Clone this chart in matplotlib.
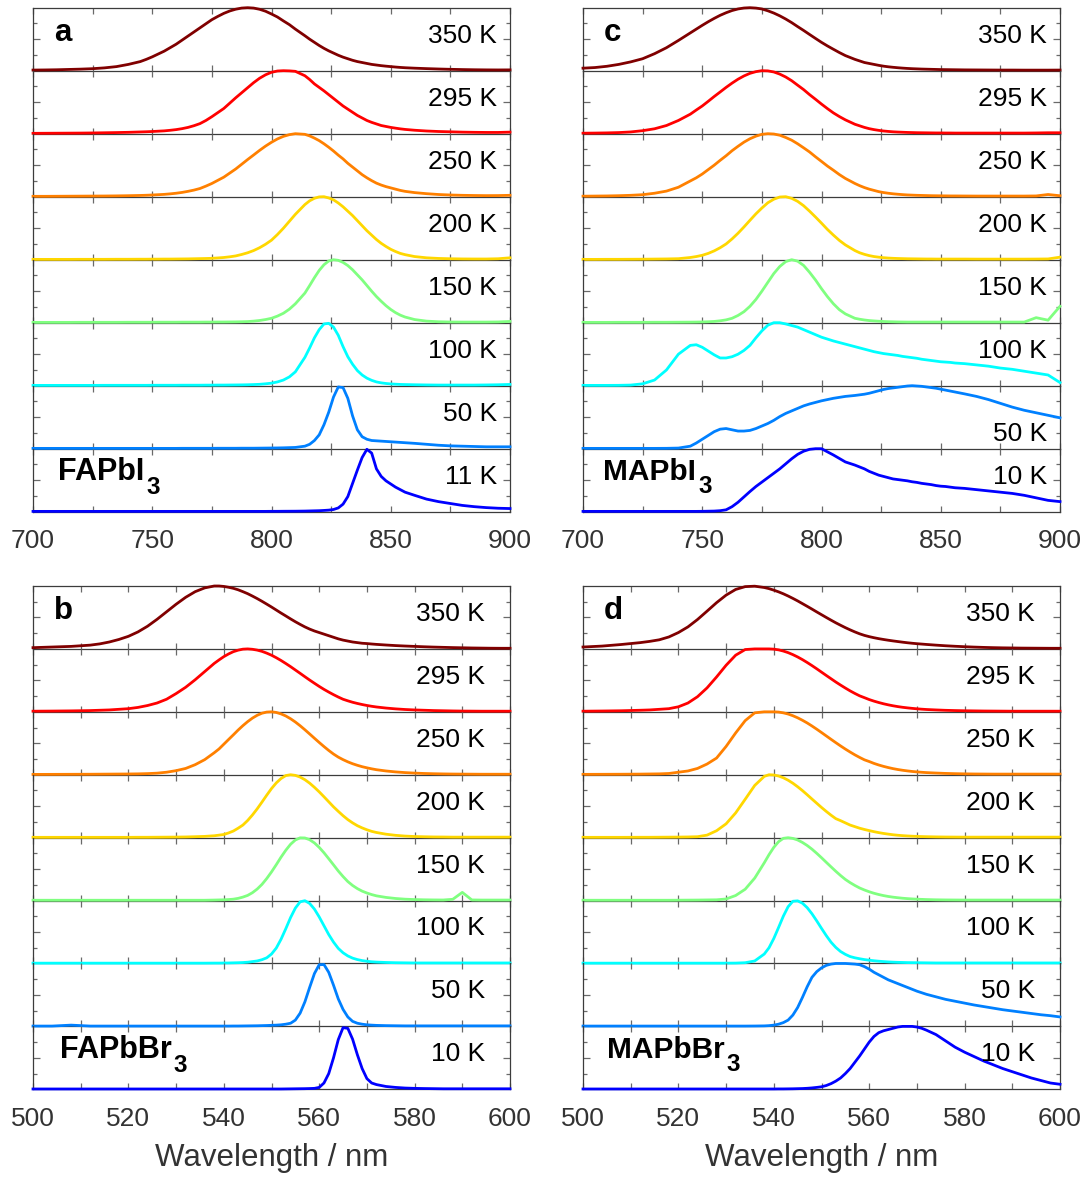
import numpy as np
import matplotlib
matplotlib.use("Agg")
import matplotlib.pyplot as plt
from matplotlib.ticker import MultipleLocator, FixedLocator

plt.rcParams['font.family'] = ['Liberation Sans', 'DejaVu Sans']

# ---------------------------------------------------------------------------
# Wavelength sampling (nm)
# ---------------------------------------------------------------------------
wl_iodide = np.r_[700:746:5, 747.5:811:2.5, 814:857:2, 860:901:5]
wl_bromide = np.r_[500:513:4, 514:537:2, 538:573:1, 574:601:2]

labels_fapbi3 = ['350 K', '295 K', '250 K', '200 K', '150 K', '100 K', '50 K', '11 K']
labels_other = ['350 K', '295 K', '250 K', '200 K', '150 K', '100 K', '50 K', '10 K']
line_colors = ['#800000', '#ff0000', '#ff8000', '#ffd700', '#80ff80', '#00ffff', '#0080ff', '#0000ff']

# ---------------------------------------------------------------------------
# FAPbI3 normalised PL (panel a)
# ---------------------------------------------------------------------------
fapbi3_350 = [0.010, 0.012, 0.015, 0.020, 0.025, 0.032, 0.045, 0.065, 0.100, 0.145,
              0.180, 0.220, 0.265, 0.310, 0.365, 0.420, 0.485, 0.550, 0.615, 0.680, 0.745, 0.810, 0.862,
              0.910, 0.948, 0.976, 0.994, 1.000, 0.994, 0.975, 0.944, 0.900, 0.852, 0.790, 0.731, 0.660,
              0.555, 0.500, 0.450, 0.400, 0.355, 0.315, 0.280, 0.245, 0.215, 0.190, 0.165, 0.145, 0.130, 0.115, 0.100, 0.090, 0.080, 0.072, 0.065, 0.058, 0.052, 0.047,
              0.040, 0.033, 0.027, 0.022, 0.018, 0.015, 0.013, 0.012, 0.013]
fapbi3_295 = [0.006, 0.007, 0.008, 0.009, 0.010, 0.012, 0.015, 0.018, 0.022, 0.028,
              0.031, 0.035, 0.040, 0.045, 0.054, 0.065, 0.080, 0.100, 0.127, 0.160, 0.210, 0.270, 0.335,
              0.400, 0.485, 0.570, 0.650, 0.730, 0.810, 0.880, 0.935, 0.975, 0.995, 1.000, 0.997, 0.990,
              0.920, 0.860, 0.790, 0.735, 0.680, 0.620, 0.560, 0.500, 0.440, 0.390, 0.340, 0.290, 0.250, 0.210, 0.180, 0.155, 0.130, 0.115, 0.100, 0.088, 0.077, 0.068,
              0.055, 0.043, 0.035, 0.030, 0.025, 0.022, 0.020, 0.020, 0.025]
fapbi3_250 = [0.006, 0.006, 0.007, 0.008, 0.009, 0.010, 0.011, 0.013, 0.016, 0.020,
              0.023, 0.027, 0.032, 0.037, 0.045, 0.055, 0.068, 0.085, 0.105, 0.130, 0.168, 0.210, 0.260,
              0.310, 0.375, 0.440, 0.515, 0.590, 0.662, 0.735, 0.803, 0.864, 0.917, 0.958, 0.985, 1.000,
              0.990, 0.965, 0.930, 0.890, 0.840, 0.785, 0.725, 0.660, 0.600, 0.530, 0.470, 0.410, 0.350, 0.300, 0.255, 0.215, 0.185, 0.160, 0.140, 0.120, 0.100, 0.085,
              0.065, 0.048, 0.035, 0.027, 0.022, 0.019, 0.017, 0.018, 0.022]
fapbi3_200 = [0.005, 0.005, 0.005, 0.005, 0.006, 0.006, 0.006, 0.007, 0.007, 0.008,
              0.008, 0.009, 0.009, 0.010, 0.010, 0.011, 0.012, 0.013, 0.015, 0.017, 0.019, 0.022, 0.028,
              0.035, 0.046, 0.060, 0.083, 0.110, 0.145, 0.190, 0.245, 0.310, 0.400, 0.500, 0.610, 0.720,
              0.875, 0.935, 0.975, 0.997, 1.000, 0.980, 0.950, 0.900, 0.840, 0.770, 0.700, 0.620, 0.540, 0.460, 0.390, 0.320, 0.260, 0.210, 0.165, 0.130, 0.100, 0.080,
              0.050, 0.030, 0.020, 0.015, 0.012, 0.011, 0.011, 0.015, 0.030]
fapbi3_150 = [0.005, 0.005, 0.005, 0.005, 0.006, 0.006, 0.006, 0.006, 0.007, 0.007,
              0.007, 0.007, 0.008, 0.008, 0.008, 0.008, 0.009, 0.009, 0.009, 0.009, 0.010, 0.010, 0.011,
              0.011, 0.012, 0.013, 0.015, 0.018, 0.025, 0.035, 0.050, 0.070, 0.105, 0.150, 0.215, 0.300,
              0.470, 0.590, 0.715, 0.830, 0.920, 0.980, 1.000, 0.990, 0.957, 0.907, 0.840, 0.760, 0.680, 0.590, 0.500, 0.415, 0.340, 0.270, 0.210, 0.160, 0.120, 0.090,
              0.050, 0.025, 0.015, 0.011, 0.010, 0.010, 0.010, 0.012, 0.020]
fapbi3_100 = [0.005, 0.005, 0.005, 0.005, 0.005, 0.005, 0.006, 0.006, 0.006, 0.006,
              0.006, 0.007, 0.007, 0.007, 0.007, 0.007, 0.008, 0.008, 0.008, 0.008, 0.009, 0.009, 0.010,
              0.010, 0.011, 0.012, 0.013, 0.015, 0.018, 0.022, 0.030, 0.040, 0.060, 0.090, 0.140, 0.220,
              0.450, 0.600, 0.760, 0.890, 0.980, 0.990, 0.930, 0.800, 0.620, 0.460, 0.340, 0.240, 0.170, 0.120, 0.085, 0.060, 0.045, 0.035, 0.028, 0.024, 0.020, 0.018,
              0.015, 0.012, 0.010, 0.010, 0.010, 0.010, 0.012, 0.015, 0.020]
fapbi3_50 = [0.005, 0.005, 0.005, 0.005, 0.005, 0.005, 0.005, 0.005, 0.005, 0.005,
             0.005, 0.005, 0.005, 0.005, 0.005, 0.005, 0.006, 0.006, 0.006, 0.006, 0.006, 0.006, 0.007,
             0.007, 0.007, 0.007, 0.008, 0.008, 0.008, 0.009, 0.010, 0.011, 0.012, 0.014, 0.017, 0.020,
             0.040, 0.070, 0.130, 0.220, 0.380, 0.580, 0.820, 0.980, 0.970, 0.800, 0.520, 0.300, 0.190, 0.150, 0.130, 0.125, 0.120, 0.115, 0.110, 0.105, 0.100, 0.095,
             0.085, 0.070, 0.055, 0.045, 0.040, 0.035, 0.030, 0.030, 0.030]
fapbi3_11 = [0.005, 0.005, 0.005, 0.005, 0.005, 0.005, 0.005, 0.005, 0.005, 0.005,
             0.005, 0.005, 0.005, 0.005, 0.005, 0.005, 0.005, 0.005, 0.005, 0.005, 0.005, 0.005, 0.005,
             0.005, 0.005, 0.005, 0.005, 0.005, 0.005, 0.005, 0.005, 0.006, 0.006, 0.007, 0.0075, 0.008,
             0.010, 0.012, 0.014, 0.016, 0.020, 0.025, 0.035, 0.060, 0.120, 0.240, 0.450, 0.660, 0.860, 0.990, 0.930, 0.680, 0.560, 0.490, 0.440, 0.390, 0.350, 0.310,
             0.260, 0.200, 0.160, 0.130, 0.100, 0.080, 0.065, 0.055, 0.050]

# ---------------------------------------------------------------------------
# MAPbI3 normalised PL (panel c)
# ---------------------------------------------------------------------------
mapbi3_350 = [0.040, 0.050, 0.070, 0.100, 0.140, 0.190, 0.270, 0.365, 0.480, 0.600,
              0.660, 0.720, 0.777, 0.830, 0.879, 0.920, 0.955, 0.980, 0.995, 1.000, 0.994, 0.980, 0.951,
              0.915, 0.871, 0.820, 0.763, 0.700, 0.639, 0.575, 0.512, 0.450, 0.393, 0.340, 0.288, 0.240,
              0.180, 0.155, 0.130, 0.115, 0.100, 0.085, 0.072, 0.062, 0.054, 0.047, 0.041, 0.036, 0.032, 0.029, 0.026, 0.024, 0.022, 0.020, 0.018, 0.017, 0.016, 0.015,
              0.013, 0.012, 0.011, 0.010, 0.010, 0.009, 0.009, 0.009, 0.010]
mapbi3_295 = [0.008, 0.010, 0.013, 0.018, 0.028, 0.048, 0.078, 0.130, 0.210, 0.310,
              0.376, 0.440, 0.514, 0.590, 0.662, 0.735, 0.803, 0.865, 0.917, 0.958, 0.985, 1.000, 0.997,
              0.980, 0.946, 0.900, 0.841, 0.770, 0.700, 0.620, 0.546, 0.470, 0.398, 0.330, 0.272, 0.220,
              0.150, 0.125, 0.100, 0.080, 0.065, 0.053, 0.043, 0.036, 0.030, 0.026, 0.023, 0.020, 0.018, 0.016, 0.015, 0.014, 0.013, 0.012, 0.012, 0.011, 0.011, 0.010,
              0.010, 0.010, 0.010, 0.010, 0.010, 0.010, 0.012, 0.015, 0.015]
mapbi3_250 = [0.008, 0.010, 0.012, 0.016, 0.022, 0.032, 0.055, 0.089, 0.150, 0.250,
              0.300, 0.360, 0.430, 0.500, 0.577, 0.650, 0.730, 0.800, 0.866, 0.920, 0.961, 0.990, 1.000,
              0.995, 0.976, 0.940, 0.897, 0.840, 0.776, 0.710, 0.633, 0.560, 0.486, 0.420, 0.351, 0.290,
              0.210, 0.175, 0.145, 0.120, 0.100, 0.080, 0.066, 0.055, 0.046, 0.039, 0.033, 0.028, 0.025, 0.022, 0.020, 0.018, 0.016, 0.015, 0.014, 0.013, 0.012, 0.012,
              0.011, 0.010, 0.010, 0.010, 0.010, 0.010, 0.012, 0.035, 0.015]
mapbi3_200 = [0.005, 0.005, 0.006, 0.006, 0.007, 0.008, 0.010, 0.012, 0.016, 0.035,
              0.050, 0.070, 0.100, 0.140, 0.190, 0.250, 0.330, 0.420, 0.520, 0.625, 0.728, 0.820, 0.904,
              0.960, 0.995, 1.000, 0.974, 0.926, 0.857, 0.770, 0.677, 0.580, 0.480, 0.390, 0.306, 0.235,
              0.145, 0.110, 0.085, 0.065, 0.050, 0.040, 0.032, 0.026, 0.022, 0.019, 0.017, 0.015, 0.014, 0.013, 0.012, 0.011, 0.011, 0.010, 0.010, 0.010, 0.010, 0.010,
              0.010, 0.009, 0.009, 0.009, 0.009, 0.009, 0.010, 0.012, 0.040]
mapbi3_150 = [0.005, 0.005, 0.005, 0.006, 0.006, 0.006, 0.007, 0.007, 0.008, 0.009,
              0.010, 0.012, 0.015, 0.020, 0.030, 0.045, 0.070, 0.115, 0.175, 0.260, 0.369, 0.500, 0.641,
              0.780, 0.892, 0.970, 1.000, 0.977, 0.909, 0.800, 0.677, 0.540, 0.413, 0.300, 0.206, 0.140,
              0.070, 0.055, 0.043, 0.034, 0.028, 0.023, 0.019, 0.016, 0.014, 0.012, 0.011, 0.010, 0.010, 0.010, 0.010, 0.010, 0.010, 0.010, 0.010, 0.010, 0.010, 0.010,
              0.010, 0.010, 0.010, 0.010, 0.010, 0.010, 0.080, 0.040, 0.260]
mapbi3_100 = [0.005, 0.005, 0.005, 0.006, 0.010, 0.030, 0.090, 0.250, 0.500, 0.640,
              0.650, 0.610, 0.550, 0.490, 0.440, 0.440, 0.460, 0.500, 0.560, 0.640, 0.760, 0.870, 0.960,
              1.000, 1.000, 0.980, 0.955, 0.930, 0.890, 0.850, 0.810, 0.770, 0.740, 0.710, 0.685, 0.660,
              0.620, 0.600, 0.580, 0.560, 0.540, 0.525, 0.510, 0.500, 0.490, 0.480, 0.465, 0.455, 0.445, 0.435, 0.420, 0.410, 0.400, 0.390, 0.380, 0.375, 0.370, 0.360,
              0.350, 0.330, 0.310, 0.280, 0.260, 0.230, 0.200, 0.170, 0.050]
mapbi3_50 = [0.005, 0.005, 0.005, 0.005, 0.005, 0.005, 0.005, 0.006, 0.010, 0.040,
             0.090, 0.150, 0.210, 0.270, 0.310, 0.320, 0.300, 0.280, 0.280, 0.290, 0.320, 0.360, 0.400,
             0.450, 0.510, 0.560, 0.600, 0.640, 0.680, 0.710, 0.735, 0.760, 0.780, 0.800, 0.815, 0.830,
             0.845, 0.855, 0.865, 0.880, 0.900, 0.920, 0.940, 0.955, 0.965, 0.975, 0.985, 0.995, 1.000, 0.995, 0.990, 0.980, 0.970, 0.960, 0.945, 0.930, 0.915, 0.900,
             0.870, 0.830, 0.780, 0.720, 0.660, 0.610, 0.570, 0.530, 0.490]
mapbi3_10 = [0.005, 0.005, 0.005, 0.005, 0.005, 0.005, 0.005, 0.005, 0.005, 0.005,
             0.005, 0.006, 0.008, 0.010, 0.016, 0.030, 0.080, 0.150, 0.235, 0.320, 0.400, 0.470, 0.540,
             0.610, 0.680, 0.760, 0.840, 0.910, 0.960, 0.990, 1.000, 1.000, 0.950, 0.900, 0.845, 0.790,
             0.740, 0.710, 0.680, 0.640, 0.610, 0.580, 0.560, 0.540, 0.520, 0.510, 0.500, 0.490, 0.475, 0.465, 0.450, 0.440, 0.430, 0.415, 0.405, 0.400, 0.390, 0.380,
             0.370, 0.350, 0.330, 0.310, 0.290, 0.260, 0.220, 0.180, 0.160]

# ---------------------------------------------------------------------------
# FAPbBr3 normalised PL (panel b)
# ---------------------------------------------------------------------------
fapbbr3_350 = [0.020, 0.030, 0.040, 0.060, 0.080, 0.110, 0.150, 0.200, 0.270, 0.360, 0.470, 0.590, 0.710, 0.820, 0.910, 0.970,
               1.000, 1.000, 0.993, 0.980, 0.963, 0.940, 0.910, 0.878, 0.840, 0.800,
               0.757, 0.712, 0.666, 0.618, 0.570, 0.524, 0.477, 0.432, 0.390, 0.350,
               0.315, 0.285, 0.260, 0.235, 0.210, 0.185, 0.160, 0.140, 0.125, 0.110,
               0.100, 0.090, 0.085, 0.078, 0.072,
               0.062, 0.053, 0.046, 0.040, 0.034, 0.029, 0.025, 0.021, 0.018, 0.015, 0.013, 0.011, 0.010, 0.010]
fapbbr3_295 = [0.010, 0.012, 0.015, 0.020, 0.025, 0.030, 0.040, 0.050, 0.070, 0.100, 0.140, 0.200, 0.290, 0.390, 0.510, 0.640,
               0.770, 0.825, 0.877, 0.920, 0.956, 0.980, 0.996, 1.000, 0.994, 0.981,
               0.961, 0.933, 0.900, 0.860, 0.816, 0.768, 0.718, 0.665, 0.612, 0.558,
               0.505, 0.454, 0.404, 0.357, 0.314, 0.273, 0.235, 0.200, 0.175, 0.152,
               0.133, 0.116, 0.101, 0.088, 0.077,
               0.060, 0.047, 0.037, 0.030, 0.025, 0.020, 0.017, 0.014, 0.012, 0.011, 0.010, 0.010, 0.010, 0.010]
fapbbr3_250 = [0.005, 0.006, 0.007, 0.008, 0.009, 0.010, 0.011, 0.012, 0.014, 0.018, 0.025, 0.040, 0.065, 0.100, 0.160, 0.240,
               0.350, 0.410, 0.485, 0.560, 0.634, 0.710, 0.780, 0.844, 0.900, 0.945,
               0.978, 0.996, 1.000, 0.990, 0.967, 0.934, 0.890, 0.838, 0.779, 0.715,
               0.648, 0.580, 0.513, 0.448, 0.386, 0.329, 0.280, 0.240, 0.205, 0.175,
               0.150, 0.128, 0.110, 0.094, 0.080,
               0.060, 0.045, 0.034, 0.026, 0.020, 0.016, 0.013, 0.011, 0.010, 0.009, 0.008, 0.008, 0.008, 0.008]
fapbbr3_200 = [0.005, 0.005, 0.005, 0.005, 0.005, 0.005, 0.005, 0.005, 0.006, 0.006, 0.007, 0.008, 0.009, 0.011, 0.015, 0.020,
               0.030, 0.040, 0.050, 0.075, 0.105, 0.150, 0.200, 0.273, 0.360, 0.458,
               0.565, 0.675, 0.780, 0.870, 0.940, 0.987, 1.000, 0.990, 0.963, 0.921,
               0.866, 0.800, 0.728, 0.650, 0.570, 0.490, 0.418, 0.349, 0.287, 0.235,
               0.190, 0.155, 0.125, 0.100, 0.082,
               0.055, 0.037, 0.025, 0.018, 0.014, 0.011, 0.010, 0.008, 0.008, 0.008, 0.008, 0.008, 0.008, 0.008]
fapbbr3_150 = [0.005, 0.005, 0.005, 0.005, 0.005, 0.005, 0.005, 0.005, 0.005, 0.005, 0.005, 0.005, 0.005, 0.005, 0.005, 0.005,
               0.008, 0.010, 0.012, 0.016, 0.022, 0.035, 0.055, 0.082, 0.125, 0.183,
               0.257, 0.350, 0.455, 0.570, 0.690, 0.800, 0.895, 0.963, 0.997, 0.995,
               0.967, 0.916, 0.845, 0.760, 0.665, 0.568, 0.470, 0.382, 0.302, 0.240,
               0.190, 0.150, 0.120, 0.095, 0.075,
               0.050, 0.033, 0.022, 0.016, 0.012, 0.010, 0.009, 0.020, 0.130, 0.010, 0.008, 0.008, 0.008, 0.008]
fapbbr3_100 = [0.005, 0.005, 0.005, 0.005, 0.005, 0.005, 0.005, 0.005, 0.005, 0.005, 0.005, 0.005, 0.005, 0.005, 0.005, 0.005,
               0.006, 0.006, 0.007, 0.008, 0.010, 0.012, 0.015, 0.020, 0.030, 0.040,
               0.060, 0.090, 0.150, 0.245, 0.385, 0.553, 0.730, 0.880, 0.980, 0.998,
               0.954, 0.864, 0.740, 0.600, 0.460, 0.340, 0.240, 0.170, 0.120, 0.085,
               0.062, 0.046, 0.035, 0.027, 0.022,
               0.016, 0.012, 0.010, 0.008, 0.008, 0.008, 0.008, 0.008, 0.008, 0.008, 0.008, 0.008, 0.008, 0.008]
fapbbr3_50 = [0.005, 0.005, 0.020, 0.005, 0.005, 0.005, 0.005, 0.005, 0.005, 0.005, 0.005, 0.005, 0.005, 0.005, 0.005, 0.005,
              0.005, 0.005, 0.005, 0.005, 0.006, 0.006, 0.007, 0.008, 0.009, 0.010,
              0.012, 0.014, 0.017, 0.020, 0.025, 0.035, 0.050, 0.100, 0.210, 0.390,
              0.620, 0.840, 0.980, 0.983, 0.859, 0.655, 0.437, 0.270, 0.150, 0.080,
              0.050, 0.035, 0.025, 0.020, 0.016,
              0.012, 0.010, 0.008, 0.008, 0.008, 0.008, 0.008, 0.008, 0.008, 0.008, 0.008, 0.008, 0.008, 0.008]
fapbbr3_10 = [0.005, 0.005, 0.005, 0.005, 0.005, 0.005, 0.005, 0.005, 0.005, 0.005, 0.005, 0.005, 0.005, 0.005, 0.005, 0.005,
              0.005, 0.005, 0.005, 0.005, 0.005, 0.005, 0.005, 0.005, 0.005, 0.005,
              0.005, 0.005, 0.005, 0.005, 0.005, 0.006, 0.007, 0.008, 0.009, 0.010,
              0.012, 0.015, 0.030, 0.100, 0.250, 0.500, 0.790, 0.980, 0.969, 0.797,
              0.550, 0.330, 0.170, 0.100, 0.075,
              0.045, 0.030, 0.020, 0.015, 0.012, 0.010, 0.008, 0.008, 0.008, 0.008, 0.008, 0.008, 0.008, 0.008]

# ---------------------------------------------------------------------------
# MAPbBr3 normalised PL (panel d)
# ---------------------------------------------------------------------------
mapbbr3_350 = [0.030, 0.045, 0.070, 0.100, 0.120, 0.145, 0.190, 0.260, 0.350, 0.467, 0.600, 0.735, 0.855, 0.945, 0.990, 0.997,
               0.976, 0.958, 0.934, 0.907, 0.876, 0.841, 0.803, 0.763, 0.720, 0.677,
               0.633, 0.588, 0.544, 0.500, 0.457, 0.415, 0.376, 0.338, 0.303, 0.270,
               0.240, 0.215, 0.195, 0.178, 0.163, 0.150, 0.138, 0.127, 0.117, 0.107,
               0.098, 0.090, 0.083, 0.077, 0.071,
               0.060, 0.050, 0.042, 0.035, 0.029, 0.024, 0.020, 0.017, 0.015, 0.013, 0.012, 0.011, 0.010, 0.010]
mapbbr3_295 = [0.010, 0.013, 0.017, 0.025, 0.030, 0.040, 0.050, 0.080, 0.140, 0.240, 0.380, 0.554, 0.740, 0.900, 0.990, 1.000,
               1.000, 1.000, 0.996, 0.985, 0.966, 0.941, 0.909, 0.872, 0.830, 0.784,
               0.735, 0.684, 0.631, 0.578, 0.526, 0.474, 0.425, 0.378, 0.333, 0.292,
               0.254, 0.225, 0.195, 0.170, 0.148, 0.128, 0.111, 0.096, 0.083, 0.072,
               0.063, 0.055, 0.048, 0.042, 0.037,
               0.030, 0.024, 0.020, 0.017, 0.015, 0.013, 0.012, 0.011, 0.010, 0.010, 0.010, 0.010, 0.010, 0.010]
mapbbr3_250 = [0.006, 0.007, 0.008, 0.010, 0.012, 0.014, 0.020, 0.040, 0.060, 0.100, 0.170, 0.265, 0.450, 0.664, 0.860, 0.984,
               1.000, 1.000, 1.000, 0.996, 0.984, 0.965, 0.938, 0.905, 0.866, 0.823,
               0.775, 0.724, 0.671, 0.617, 0.563, 0.510, 0.458, 0.408, 0.361, 0.316,
               0.275, 0.237, 0.210, 0.180, 0.155, 0.133, 0.114, 0.097, 0.083, 0.071,
               0.061, 0.052, 0.045, 0.039, 0.034,
               0.027, 0.021, 0.017, 0.014, 0.012, 0.011, 0.010, 0.010, 0.010, 0.010, 0.010, 0.010, 0.010, 0.010]
mapbbr3_200 = [0.005, 0.005, 0.005, 0.006, 0.006, 0.007, 0.008, 0.009, 0.011, 0.015, 0.040, 0.110, 0.220, 0.393, 0.610, 0.830,
               0.974, 1.000, 0.996, 0.980, 0.952, 0.913, 0.865, 0.809, 0.748, 0.682,
               0.614, 0.547, 0.480, 0.417, 0.357, 0.302, 0.270, 0.235, 0.200, 0.175,
               0.150, 0.130, 0.112, 0.095, 0.080, 0.067, 0.056, 0.046, 0.038, 0.032,
               0.027, 0.023, 0.020, 0.017, 0.015,
               0.012, 0.010, 0.009, 0.008, 0.008, 0.008, 0.008, 0.008, 0.008, 0.008, 0.008, 0.008, 0.008, 0.008]
mapbbr3_150 = [0.005, 0.005, 0.005, 0.005, 0.005, 0.005, 0.005, 0.006, 0.007, 0.008, 0.010, 0.012, 0.025, 0.080, 0.180, 0.357,
               0.600, 0.730, 0.846, 0.936, 0.989, 0.999, 0.988, 0.963, 0.924, 0.875,
               0.817, 0.751, 0.681, 0.608, 0.536, 0.465, 0.398, 0.336, 0.285, 0.240,
               0.200, 0.168, 0.140, 0.116, 0.096, 0.079, 0.065, 0.054, 0.045, 0.037,
               0.031, 0.026, 0.022, 0.019, 0.016,
               0.012, 0.010, 0.009, 0.008, 0.008, 0.008, 0.008, 0.008, 0.008, 0.008, 0.008, 0.008, 0.008, 0.008]
mapbbr3_100 = [0.005, 0.005, 0.005, 0.005, 0.005, 0.005, 0.005, 0.005, 0.005, 0.005, 0.005, 0.005, 0.005, 0.006, 0.012, 0.040,
               0.150, 0.250, 0.397, 0.572, 0.752, 0.902, 0.989, 0.995, 0.958, 0.887,
               0.790, 0.677, 0.558, 0.443, 0.338, 0.255, 0.190, 0.145, 0.110, 0.090,
               0.075, 0.062, 0.052, 0.043, 0.036, 0.030, 0.025, 0.021, 0.018, 0.016,
               0.014, 0.013, 0.012, 0.011, 0.010,
               0.008, 0.008, 0.008, 0.008, 0.008, 0.008, 0.008, 0.008, 0.008, 0.008, 0.008, 0.008, 0.008, 0.008]
mapbbr3_50 = [0.005, 0.005, 0.005, 0.005, 0.005, 0.005, 0.005, 0.005, 0.005, 0.005, 0.005, 0.005, 0.005, 0.005, 0.005, 0.006,
              0.008, 0.012, 0.020, 0.035, 0.060, 0.100, 0.180, 0.300, 0.460, 0.630,
              0.780, 0.870, 0.930, 0.970, 0.990, 1.000, 1.000, 1.000, 0.995, 0.990,
              0.980, 0.950, 0.910, 0.860, 0.820, 0.780, 0.740, 0.710, 0.680, 0.650,
              0.620, 0.590, 0.560, 0.535, 0.510,
              0.470, 0.430, 0.400, 0.370, 0.340, 0.315, 0.290, 0.265, 0.245, 0.225, 0.205, 0.185, 0.170, 0.150]
mapbbr3_10 = [0.005, 0.005, 0.005, 0.005, 0.005, 0.005, 0.005, 0.005, 0.005, 0.005, 0.005, 0.005, 0.005, 0.005, 0.005, 0.005,
              0.005, 0.005, 0.005, 0.006, 0.006, 0.007, 0.008, 0.010, 0.012, 0.016,
              0.022, 0.030, 0.040, 0.060, 0.090, 0.130, 0.180, 0.250, 0.330, 0.430,
              0.530, 0.640, 0.750, 0.840, 0.900, 0.930, 0.950, 0.970, 0.990, 1.000,
              1.000, 1.000, 0.990, 0.970, 0.940,
              0.870, 0.770, 0.670, 0.590, 0.520, 0.450, 0.390, 0.330, 0.280, 0.230, 0.180, 0.140, 0.100, 0.080]

# ---------------------------------------------------------------------------
# Panel definitions
# ---------------------------------------------------------------------------
W, H = 1091, 1178
fig = plt.figure(figsize=(W / 100, H / 100), dpi=100)

panels = [
    dict(letter='a', name='FAPbI', name_size=22, wl=wl_iodide, xlim=(700, 900), major=50, minor=25,
         series=[fapbi3_350, fapbi3_295, fapbi3_250, fapbi3_200, fapbi3_150, fapbi3_100, fapbi3_50, fapbi3_11],
         labels=labels_fapbi3, box=(33, 7.7, 477, 504), tx=0.973, label_y=[0.445] * 8,
         name_x=0.052, xlabel=False),
    dict(letter='c', name='MAPbI', name_size=21.5, wl=wl_iodide, xlim=(700, 900), major=50, minor=25,
         series=[mapbi3_350, mapbi3_295, mapbi3_250, mapbi3_200, mapbi3_150, mapbi3_100, mapbi3_50, mapbi3_10],
         labels=labels_other, box=(583, 7.7, 477, 504), tx=0.973,
         label_y=[0.445] * 6 + [0.13, 0.445], name_x=0.042, xlabel=False),
    dict(letter='b', name='FAPbBr', name_size=22, wl=wl_bromide, xlim=(500, 600), major=20, minor=10,
         series=[fapbbr3_350, fapbbr3_295, fapbbr3_250, fapbbr3_200, fapbbr3_150, fapbbr3_100, fapbbr3_50, fapbbr3_10],
         labels=labels_other, box=(33, 586, 477, 503.3), tx=0.948, label_y=[0.445] * 8,
         name_x=0.056, xlabel=True),
    dict(letter='d', name='MAPbBr', name_size=21.5, wl=wl_bromide, xlim=(500, 600), major=20, minor=10,
         series=[mapbbr3_350, mapbbr3_295, mapbbr3_250, mapbbr3_200, mapbbr3_150, mapbbr3_100, mapbbr3_50, mapbbr3_10],
         labels=labels_other, box=(583, 586, 477, 503.3), tx=0.948, label_y=[0.445] * 8,
         name_x=0.05, xlabel=True),
]

spine_color = '#3c3c3c'
tick_color = '#6a6a6a'
label_color = '#333333'

for p in panels:
    x0, y0, w, h = p['box']
    hs = h / 8.0
    for i in range(8):
        top = y0 + i * hs
        ax = fig.add_axes([x0 / W, 1 - (top + hs) / H, w / W, hs / H])
        ax.set_facecolor('none')
        ax.plot(p['wl'], p['series'][i], color=line_colors[i], lw=2.0,
                clip_on=False, zorder=3, solid_joinstyle='round')
        ax.set_xlim(*p['xlim'])
        ax.set_ylim(0, 1)
        for side, sp in ax.spines.items():
            sp.set_color(spine_color)
            sp.set_linewidth(0.9)
        if i > 0:
            ax.spines['top'].set_visible(False)
        ax.xaxis.set_major_locator(MultipleLocator(p['major']))
        ax.xaxis.set_minor_locator(MultipleLocator(p['minor']))
        ax.yaxis.set_major_locator(FixedLocator([0.5]))
        ax.yaxis.set_minor_locator(FixedLocator([0.25, 0.75]))
        ax.tick_params(axis='both', which='both', direction='in', top=True, right=True,
                       color=tick_color, width=0.9, labelleft=False)
        ax.tick_params(axis='x', which='both', length=4)
        ax.tick_params(axis='y', which='major', length=5)
        ax.tick_params(axis='y', which='minor', length=3)
        last = (i == 7)
        ax.tick_params(axis='x', which='major', labelbottom=last, labelsize=19,
                       labelcolor=label_color, pad=12.5)
        ax.text(p['tx'], p['label_y'][i], p['labels'][i], transform=ax.transAxes,
                ha='right', va='baseline', fontsize=19, color='black')
        if i == 0:
            ax.text(0.044, 0.47, p['letter'], transform=ax.transAxes, ha='left',
                    va='baseline', fontsize=22.5, fontweight='bold', color='black')
        if last:
            t = ax.text(p['name_x'], 0.50, p['name'], transform=ax.transAxes, ha='left',
                        va='baseline', fontsize=p['name_size'], fontweight='bold', color='black')
            ax.annotate('3', xy=(1, 0), xycoords=t, xytext=(1.5, -5.0),
                        textcoords='offset points', ha='left', va='baseline',
                        fontsize=17.5, fontweight='bold', color='black')
    if p['xlabel']:
        fig.text((x0 + w / 2) / W, 1 - 1158 / H, 'Wavelength / nm', ha='center',
                 va='center', fontsize=22.5, color=label_color)

fig.savefig('out.png', dpi=100)
